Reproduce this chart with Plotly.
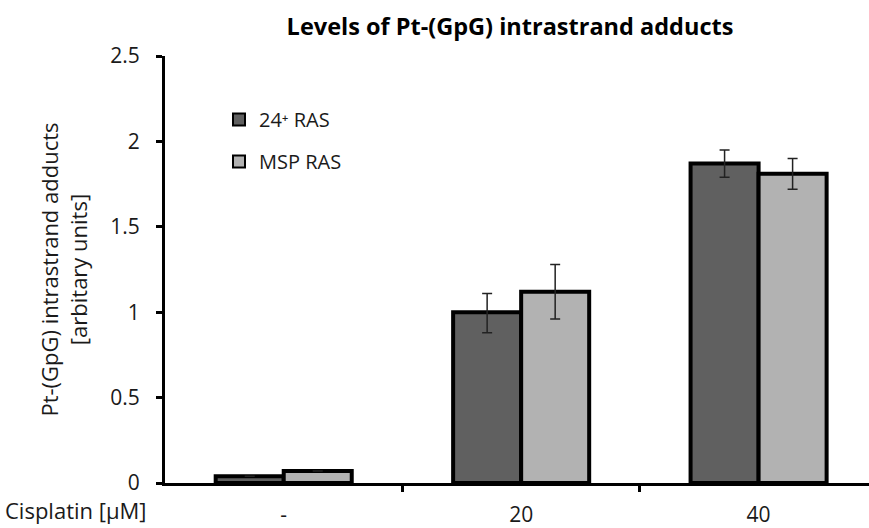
import plotly.graph_objects as go

categories = ["-", "20", "40"]
series_names = ["24\u207a RAS", "MSP RAS"]
ras24_values = [0.04, 1.0, 1.87]
ras24_err_plus = [0.0, 0.11, 0.08]
ras24_err_minus = [0.0, 0.12, 0.08]
msp_values = [0.07, 1.12, 1.81]
msp_err_plus = [0.0, 0.16, 0.09]
msp_err_minus = [0.0, 0.16, 0.09]
y_ticks = [0, 0.5, 1, 1.5, 2, 2.5]
y_tick_labels = ["0", "0.5", "1", "1.5", "2", "2.5"]

FONT = "Open Sans"
x_pos = list(range(len(categories)))

fig = go.Figure()
fig.add_trace(go.Bar(
    x=x_pos, y=ras24_values, name=series_names[0], legendgroup="a",
    marker=dict(color="#606060", line=dict(color="black", width=4)),
    error_y=dict(type="data", array=ras24_err_plus, arrayminus=ras24_err_minus,
                 color="#222", thickness=1.5, width=5),
))
fig.add_trace(go.Bar(
    x=x_pos, y=msp_values, name=series_names[1], legendgroup="b",
    marker=dict(color="#b2b2b2", line=dict(color="black", width=4)),
    error_y=dict(type="data", array=msp_err_plus, arrayminus=msp_err_minus,
                 color="#222", thickness=1.5, width=5),
))

fig.update_layout(
    width=869, height=528,
    margin=dict(l=165, r=0, t=56, b=45),
    paper_bgcolor="white", plot_bgcolor="white",
    barmode="group", bargap=0.427, bargroupgap=0,
    font=dict(family=FONT, color="#1a1a1a", size=21),
    title=dict(text="<b>Levels of Pt-(GpG) intrastrand adducts</b>",
               x=510/869, xanchor="center", y=1 - 27/528, yanchor="middle",
               font=dict(family=FONT, size=23.5, color="black")),
    showlegend=True,
    legend=dict(x=(219 - 165) / 704, y=1 - (100 - 56) / 427, xanchor="left", yanchor="top",
                bgcolor="rgba(0,0,0,0)", font=dict(family=FONT, size=20, color="#1a1a1a"),
                tracegroupgap=13, itemsizing="constant"),
    xaxis=dict(
        range=[-0.5, 2.465], tickmode="array", tickvals=x_pos, ticktext=categories,
        ticks="", showline=True, linecolor="black", linewidth=3, zeroline=False,
        showgrid=False, ticklabelstandoff=11,
        minor=dict(tickmode="array", tickvals=[0.5, 1.5], ticks="outside",
                   ticklen=6, tickwidth=3, tickcolor="black", showgrid=False),
        tickfont=dict(family=FONT, size=21),
    ),
    yaxis=dict(
        range=[0, 2.5], tickmode="array", tickvals=y_ticks, ticktext=y_tick_labels,
        ticks="outside", ticklen=6, tickwidth=3, tickcolor="black",
        showline=True, linecolor="black", linewidth=3, zeroline=False, showgrid=False,
        ticklabelstandoff=12, tickfont=dict(family=FONT, size=21),
        title=dict(text="Pt-(GpG) intrastrand adducts<br>[arbitary units]",
                   font=dict(family=FONT, size=22), standoff=17),
    ),
    annotations=[dict(text="Cisplatin [\u00b5M]", xref="paper", yref="paper",
                      x=-162 / 704, y=-(527 - 483) / 427, xanchor="left", yanchor="bottom",
                      showarrow=False, font=dict(family=FONT, size=22, color="#1a1a1a"))],
)

fig.write_html("out.html")
